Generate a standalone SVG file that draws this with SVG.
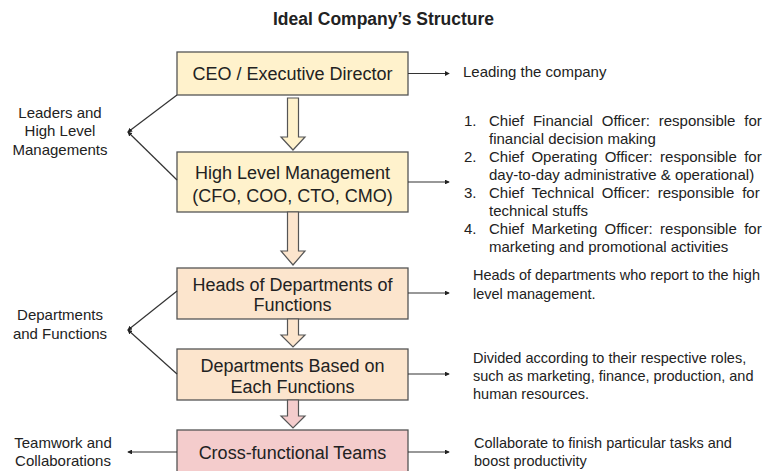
<svg xmlns="http://www.w3.org/2000/svg" width="766" height="471" viewBox="0 0 766 471">
  <defs>
    <marker id="tip" viewBox="0 0 6 6" refX="5" refY="3" markerWidth="4" markerHeight="4" orient="auto" markerUnits="strokeWidth">
      <path d="M0,0 L6,3 L0,6 Z" fill="#222"/>
    </marker>
    <style>
      text { font-family: "Liberation Sans", Arial, sans-serif; fill: #222; }
      .title { font-size: 17.5px; font-weight: bold; }
      .box { stroke: #555; stroke-width: 1.3; }
      .lvl1 { fill: #fff2cc; }
      .lvl2 { fill: #fce5cd; }
      .lvl3 { fill: #f4cccc; }
      .label { font-size: 18px; text-anchor: middle; }
      .side { font-size: 15px; text-anchor: middle; }
      .note { font-size: 14.5px; }
      .list { font-size: 15px; }
      .link { fill: none; stroke: #333; stroke-width: 1.2; marker-end: url(#tip); }
      .flow { stroke: #555; stroke-width: 1.2; }
    </style>
  </defs>
  <rect width="766" height="471" fill="#ffffff"/>

  <text class="title" x="273" y="25">Ideal Company’s Structure</text>

  <!-- hierarchy boxes -->
  <g id="ceo">
    <rect class="box lvl1" x="177" y="52" width="231" height="43"/>
    <text class="label" x="292.5" y="79.5">CEO / Executive Director</text>
  </g>
  <g id="high-level">
    <rect class="box lvl1" x="177" y="152" width="231" height="60"/>
    <text class="label" x="292.5" y="178.5">High Level Management</text>
    <text class="label" x="292.5" y="201.5">(CFO, COO, CTO, CMO)</text>
  </g>
  <g id="heads">
    <rect class="box lvl2" x="177" y="268" width="231" height="51"/>
    <text class="label" x="292.5" y="290.5">Heads of Departments of</text>
    <text class="label" x="292.5" y="310.5">Functions</text>
  </g>
  <g id="departments">
    <rect class="box lvl2" x="177" y="349" width="231" height="51"/>
    <text class="label" x="292.5" y="371.5">Departments Based on</text>
    <text class="label" x="292.5" y="392.5">Each Functions</text>
  </g>
  <g id="teams">
    <rect class="box lvl3" x="177" y="430" width="231" height="50"/>
    <text class="label" x="292.5" y="458.5">Cross-functional Teams</text>
  </g>

  <!-- group labels on the left -->
  <g id="label-leaders">
    <text class="side" x="60" y="117.5">Leaders and</text>
    <text class="side" x="60" y="136">High Level</text>
    <text class="side" x="60" y="154.5">Managements</text>
  </g>
  <g id="label-departments">
    <text class="side" x="60" y="320">Departments</text>
    <text class="side" x="60" y="338.5">and Functions</text>
  </g>
  <g id="label-teamwork">
    <text class="side" x="63" y="447.5">Teamwork and</text>
    <text class="side" x="63" y="466">Collaborations</text>
  </g>

  <!-- descriptions on the right -->
  <g id="note-ceo">
    <text class="list" x="463" y="77">Leading the company</text>
  </g>
  <g id="note-high-level">
    <!-- justified list: word-spacing stretches each full line to x = 762 -->
    <text class="list" x="464" y="125.5">1.</text>
    <text class="list" x="489" y="125.5" word-spacing="4.7">Chief Financial Officer: responsible for</text>
    <text class="list" x="489" y="143.6">financial decision making</text>
    <text class="list" x="464" y="161.7">2.</text>
    <text class="list" x="489" y="161.7" word-spacing="3.2">Chief Operating Officer: responsible for</text>
    <text class="list" x="489" y="179.8">day-to-day administrative &amp; operational)</text>
    <text class="list" x="464" y="197.9">3.</text>
    <text class="list" x="489" y="197.9" word-spacing="3.6">Chief Technical Officer: responsible for</text>
    <text class="list" x="489" y="216">technical stuffs</text>
    <text class="list" x="464" y="234.1">4.</text>
    <text class="list" x="489" y="234.1" word-spacing="3.2">Chief Marketing Officer: responsible for</text>
    <text class="list" x="489" y="252.2">marketing and promotional activities</text>
  </g>
  <g id="note-heads">
    <text class="note" x="473" y="279.5">Heads of departments who report to the high</text>
    <text class="note" x="473" y="298.5">level management.</text>
  </g>
  <g id="note-departments">
    <text class="note" x="473" y="362.5">Divided according to their respective roles,</text>
    <text class="note" x="473" y="380.5">such as marketing, finance, production, and</text>
    <text class="note" x="473" y="398.5">human resources.</text>
  </g>
  <g id="note-teams">
    <text class="note" x="474" y="447.5">Collaborate to finish particular tasks and</text>
    <text class="note" x="474" y="465.5">boost productivity</text>
  </g>

  <!-- connectors -->
  <g id="connectors">
    <!-- block arrows down the hierarchy -->
    <path class="flow lvl1" d="M287.5,98 H298.5 V137 H305 L293,150 L281,137 H287.5 Z"/>
    <path class="flow lvl2" d="M287.5,212 H298.5 V251 H305 L293,265 L281,251 H287.5 Z"/>
    <path class="flow lvl2" d="M287.5,319 H298.5 V335 H305 L293,347 L281,335 H287.5 Z"/>
    <path class="flow lvl3" d="M287.5,400 H298.5 V416 H305 L293,428 L281,416 H287.5 Z"/>

    <!-- box to description -->
    <line class="link" x1="408" y1="73.5" x2="449" y2="73.5"/>
    <line class="link" x1="408" y1="182" x2="449" y2="182"/>
    <line class="link" x1="408" y1="293" x2="449" y2="293"/>
    <line class="link" x1="408" y1="374" x2="449" y2="374"/>
    <line class="link" x1="408" y1="452" x2="449" y2="452"/>

    <!-- boxes to group labels -->
    <line class="link" x1="177" y1="95" x2="128" y2="132"/>
    <line class="link" x1="177" y1="180" x2="128" y2="132"/>
    <line class="link" x1="177" y1="291" x2="128" y2="330"/>
    <line class="link" x1="177" y1="374" x2="128" y2="330"/>
    <line class="link" x1="177" y1="452" x2="128" y2="452"/>
  </g>
</svg>
